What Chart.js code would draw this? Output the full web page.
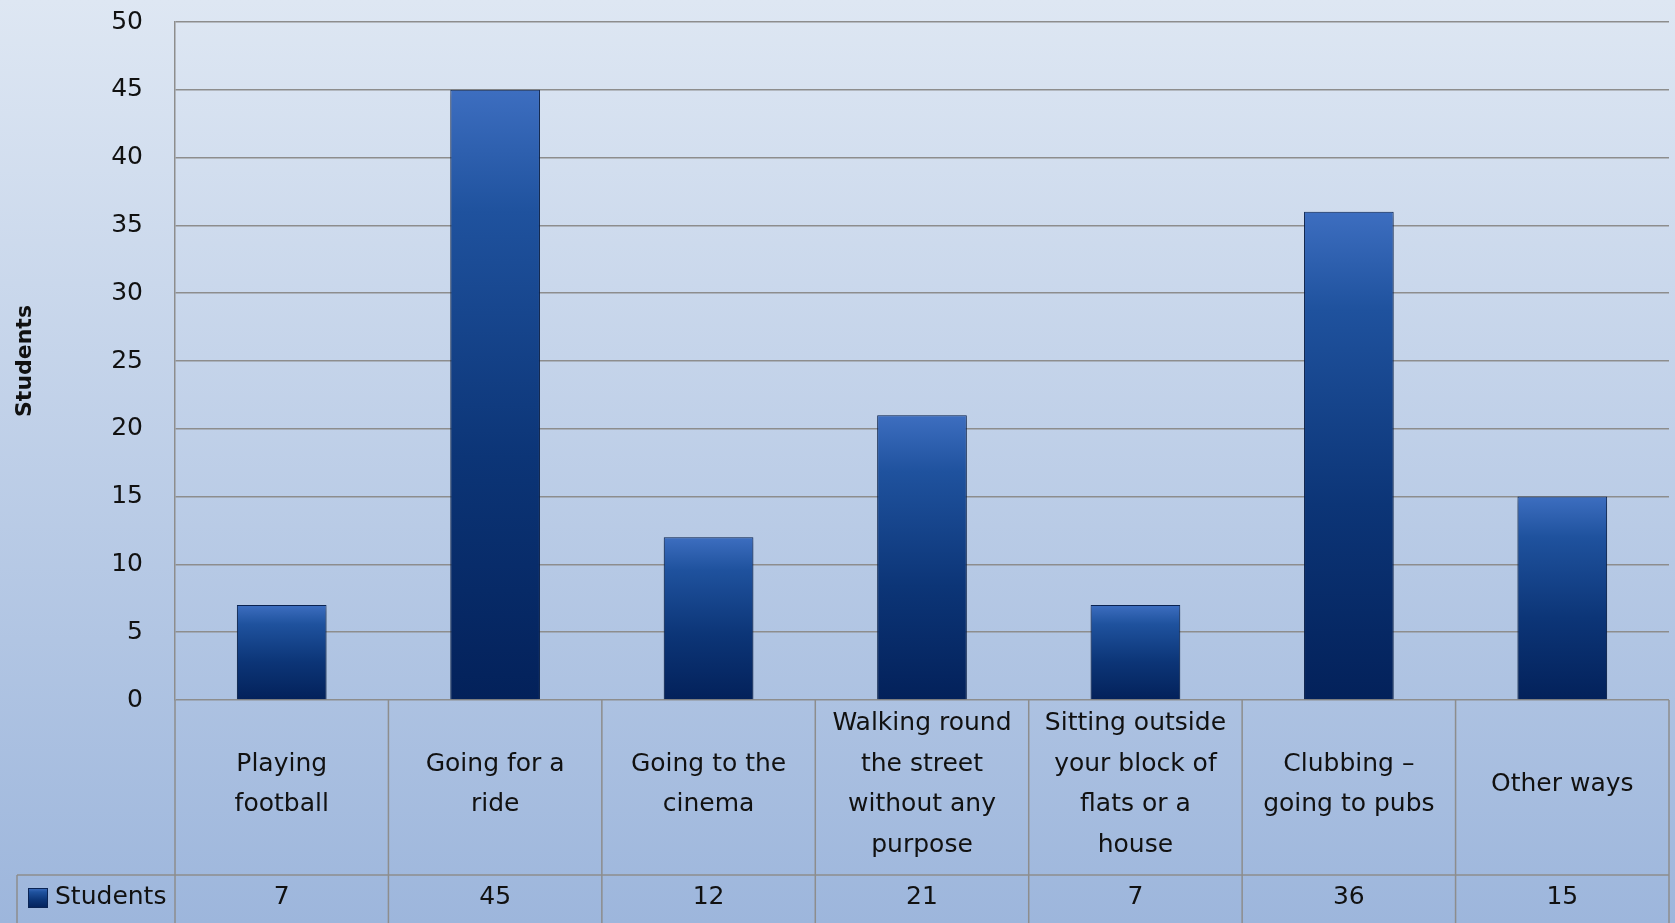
<!DOCTYPE html>
<html>
<head>
<meta charset="utf-8">
<script src="https://cdn.jsdelivr.net/npm/chart.js@4.4.1/dist/chart.umd.min.js"></script>
<style>
  html, body { margin: 0; padding: 0; background: #9fb7dc; }
  canvas { display: block; }
</style>
</head>
<body>
<canvas id="studentsChart" width="1675" height="923"></canvas>
<script>
// category labels, already split into the lines shown in the table
const categories = [
  ['Playing', 'football'],
  ['Going for a', 'ride'],
  ['Going to the', 'cinema'],
  ['Walking round', 'the street', 'without any', 'purpose'],
  ['Sitting outside', 'your block of', 'flats or a', 'house'],
  ['Clubbing –', 'going to pubs'],
  ['Other ways']
];
const seriesName = 'Students';
const students = [7, 45, 12, 21, 7, 36, 15];
const yMin = 0, yMax = 50, yStep = 5;

const FONT = '"DejaVu Sans", Verdana, sans-serif';
const GRID = '#8d8d8d';

function barGradient(c, top, bottom) {
  const g = c.createLinearGradient(0, top, 0, bottom);
  g.addColorStop(0, '#3d6ec0');
  g.addColorStop(0.2, '#1f529e');
  g.addColorStop(0.6, '#0c3577');
  g.addColorStop(1, '#03215a');
  return g;
}

// page background: light blue fading darker downwards
const backgroundPlugin = {
  id: 'bg',
  beforeDraw(chart) {
    const c = chart.ctx;
    const g = c.createLinearGradient(0, 0, 0, chart.height);
    g.addColorStop(0, '#dee7f3');
    g.addColorStop(1, '#9db6dc');
    c.save();
    c.fillStyle = g;
    c.fillRect(0, 0, chart.width, chart.height);
    c.restore();
  }
};

// soft drop shadow under the bars
const shadowPlugin = {
  id: 'barShadow',
  beforeDatasetsDraw(chart) {
    const c = chart.ctx;
    c.save();
    c.shadowColor = 'rgba(0,0,0,0.35)';
    c.shadowBlur = 6;
    c.shadowOffsetY = 3;
  },
  afterDatasetsDraw(chart) {
    chart.ctx.restore();
  }
};

// data table under the plot (category row + values row)
const tablePlugin = {
  id: 'dataTable',
  afterDraw(chart) {
    const c = chart.ctx;
    const area = chart.chartArea;
    const x = chart.scales.x;
    const n = categories.length;
    const colW = (area.right - area.left) / n;
    const labelBottom = 875;
    const tableBottom = chart.height + 2;
    const legendLeft = 17;
    const valueY = 897;

    c.save();
    c.strokeStyle = GRID;
    c.lineWidth = 1.5;
    c.beginPath();
    // y axis line continues through the table
    c.moveTo(area.left, area.bottom);
    c.lineTo(area.left, tableBottom);
    for (let i = 1; i <= n; i++) {
      const bx = area.left + colW * i;
      c.moveTo(bx, area.bottom);
      c.lineTo(bx, tableBottom);
    }
    c.moveTo(legendLeft, labelBottom);
    c.lineTo(area.right, labelBottom);
    c.moveTo(legendLeft, labelBottom);
    c.lineTo(legendLeft, tableBottom);
    c.stroke();

    c.fillStyle = '#111';
    c.font = '25px ' + FONT;
    c.textAlign = 'center';
    c.textBaseline = 'middle';
    const lineH = 40.6;
    const midY = (area.bottom + labelBottom) / 2 - 3;
    categories.forEach((lines, i) => {
      const cx = x.getPixelForValue(i);
      const startY = midY - (lines.length - 1) * lineH / 2;
      lines.forEach((t, j) => c.fillText(t, cx, startY + j * lineH));
      c.fillText(String(students[i]), cx, valueY);
    });

    // legend key + series name
    const kx = 28, ky = 888, ks = 20;
    c.fillStyle = barGradient(c, ky, ky + ks);
    c.fillRect(kx, ky, ks, ks);
    c.strokeStyle = '#0a2454';
    c.lineWidth = 1;
    c.strokeRect(kx + 0.5, ky + 0.5, ks - 1, ks - 1);
    c.fillStyle = '#111';
    c.textAlign = 'left';
    c.fillText(seriesName, 55, valueY);
    c.restore();
  }
};

const ctx = document.getElementById('studentsChart').getContext('2d');

new Chart(ctx, {
  type: 'bar',
  data: {
    labels: categories,
    datasets: [{
      label: seriesName,
      data: students,
      backgroundColor(context) {
        const chart = context.chart;
        if (!chart.chartArea || context.dataIndex === undefined) return '#1b4b95';
        const y = chart.scales.y;
        const top = y.getPixelForValue(context.dataset.data[context.dataIndex]);
        const bottom = y.getPixelForValue(0);
        return barGradient(chart.ctx, top, bottom);
      },
      borderColor: '#0a2454',
      borderWidth: 1,
      categoryPercentage: 1,
      barPercentage: 0.42
    }]
  },
  options: {
    responsive: false,
    animation: false,
    devicePixelRatio: 1,
    layout: { padding: { top: 22, right: 6, bottom: 223, left: 0 } },
    plugins: {
      legend: { display: false },
      tooltip: { enabled: false }
    },
    scales: {
      x: {
        display: false
      },
      y: {
        min: yMin,
        max: yMax,
        afterFit(scale) {
          scale.width = 175;
          scale.paddingTop = 0;
          scale.paddingBottom = 0;
        },
        ticks: {
          stepSize: yStep,
          padding: 32,
          color: '#111',
          font: { family: FONT, size: 25 }
        },
        grid: {
          color: GRID,
          lineWidth: 1.5,
          drawTicks: false
        },
        border: { display: true, color: GRID, width: 1.5 },
        title: {
          display: true,
          text: seriesName,
          color: '#111',
          font: { family: FONT, size: 22, weight: 'bold' },
          padding: { top: 12, bottom: 0 }
        }
      }
    }
  },
  plugins: [backgroundPlugin, shadowPlugin, tablePlugin]
});
</script>
</body>
</html>
